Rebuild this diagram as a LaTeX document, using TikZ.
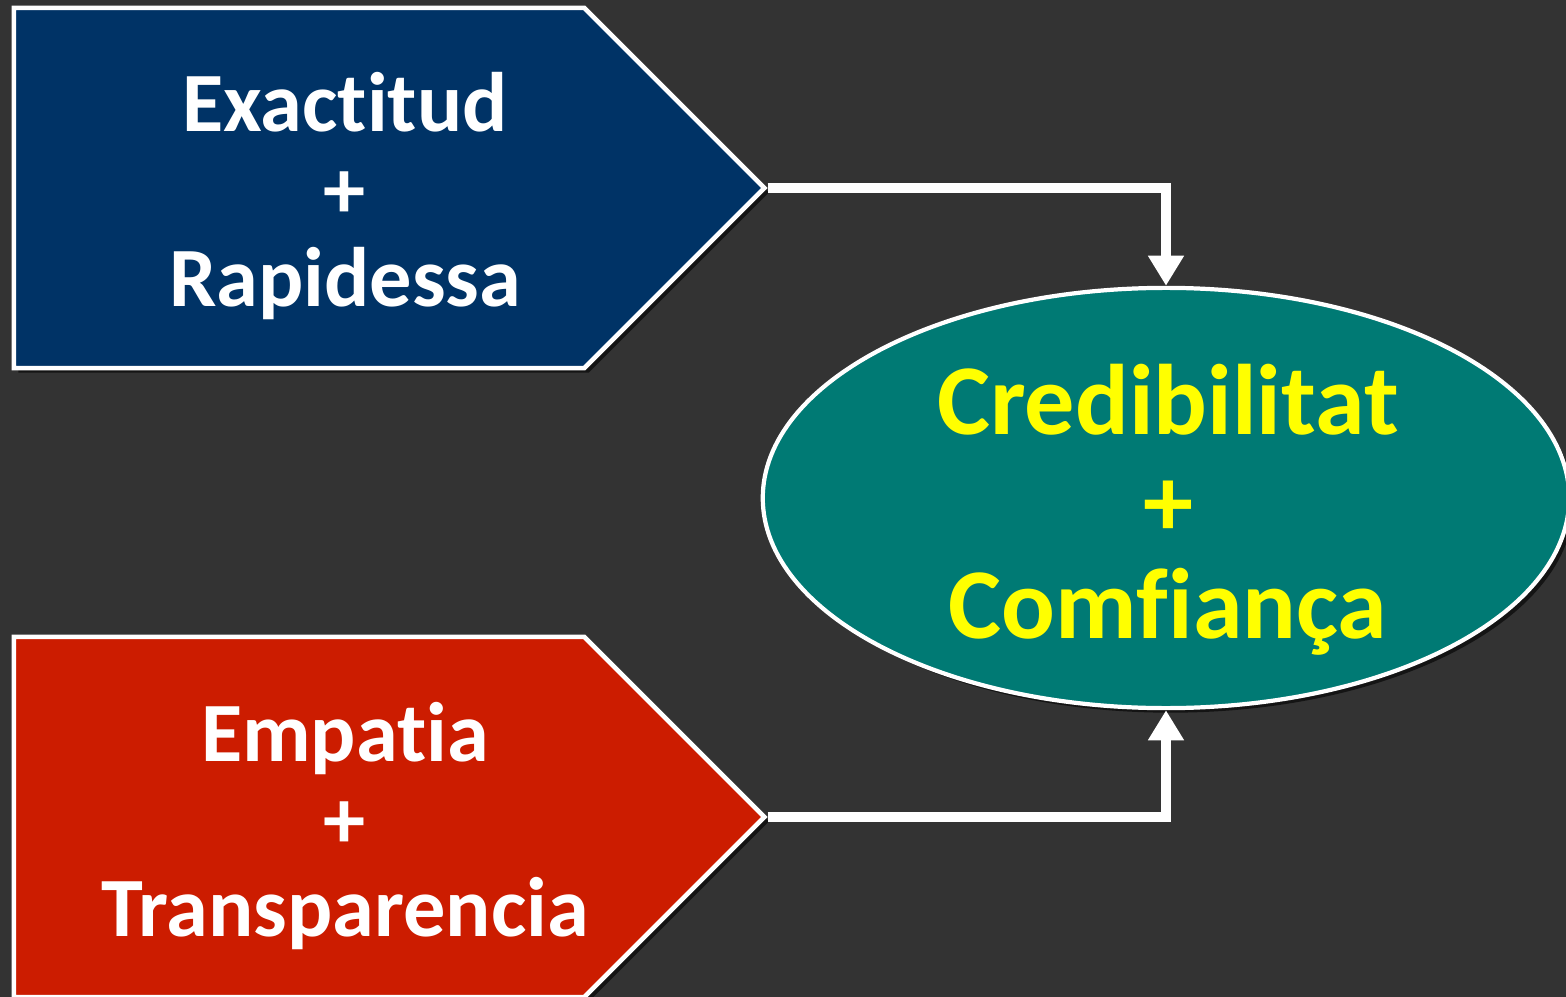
\documentclass[tikz,border=0pt]{standalone}
\usepackage{fontspec}
\setmainfont{Carlito}[Ligatures=NoCommon]
\usetikzlibrary{shapes.symbols,shapes.geometric,arrows.meta,shadows}

\definecolor{fondo}{HTML}{333333}
\definecolor{blau}{HTML}{003366}
\definecolor{vermell}{HTML}{CC1C00}
\definecolor{verd}{HTML}{007A74}
\definecolor{groc}{HTML}{FFFF00}

\tikzset{
  valor/.style={signal, signal to=east, signal pointer angle=90,
    draw=white, line width=1.3pt, minimum width=7.5cm, minimum height=3.6cm,
    inner sep=0pt,
    drop shadow={shadow xshift=1.3pt, shadow yshift=-1.3pt, fill=black, opacity=0.6}},
  valortxt/.style={text=white, align=center, font=\bfseries\fontsize{24}{25}\selectfont},
  meta/.style={ellipse, draw=white, line width=1.2pt, fill=verd, inner sep=0pt,
    minimum width=8.06cm, minimum height=4.2cm,
    drop shadow={shadow xshift=1.3pt, shadow yshift=-1.3pt, fill=black, opacity=0.6}},
  metatxt/.style={text=groc, align=center, font=\bfseries\fontsize{28.5}{29}\selectfont},
  fletxa/.style={draw=white, line width=2.85pt,
    -{Triangle[width=0.34cm, length=0.3cm]}}
}

\begin{document}
\begin{tikzpicture}[x=0.01cm, y=-0.01cm]
    % fons
    \fill[fondo] (0,0) rectangle (1566,997);
    \useasboundingbox (0,0) rectangle (1566,997);

    % les dues fletxes de valors
    \node[valor, fill=blau] (exact) at (299,188) {};
    \node[valortxt] (exacttxt) at (345,196) {Exactitud\\+\\Rapidessa};
    \node[valor, fill=vermell] (empat) at (299,817) {};
    \node[valortxt] (empattxt) at (345,826) {Empatia\\+\\Transparencia};

    % el resultat
    \node[meta] (cred) at (1166,498) {};
    \node[metatxt] (credtxt) at (1168,510) {Credibilitat\\+\\Comfiança};

    % connectors
    \draw[fletxa] (exact.east) -| (cred.north);
    \draw[fletxa] (empat.east) -| (cred.south);
\end{tikzpicture}
\end{document}
